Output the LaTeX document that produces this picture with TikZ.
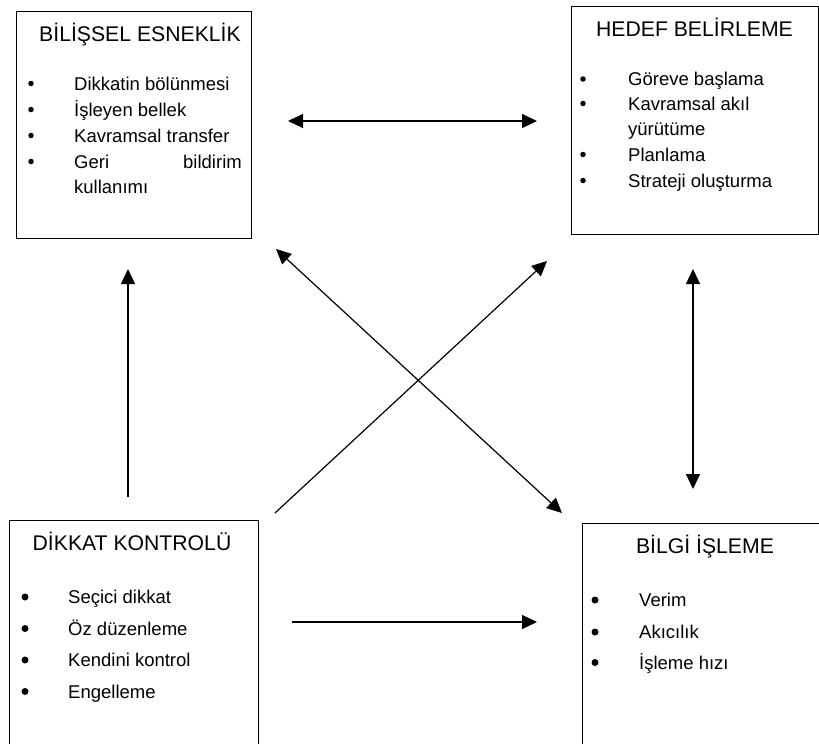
\documentclass[tikz,border=0pt]{standalone}
\usepackage{fontspec}
\setmainfont{Liberation Sans}
\usetikzlibrary{arrows.meta}

\begin{document}
\begin{tikzpicture}[x=1pt, y=-1pt,
  panel/.style={draw=black, line width=1.2pt, rectangle, anchor=north west, inner sep=0pt},
  heading/.style={anchor=base, inner sep=0pt, font=\fontsize{21.2}{25}\selectfont},
  entry/.style={anchor=base west, inner sep=0pt, font=\fontsize{18.5}{24}\selectfont},
  entryend/.style={anchor=base east, inner sep=0pt, font=\fontsize{18.5}{24}\selectfont},
  dot/.style={circle, fill=black, inner sep=0pt, minimum size=5.5pt},
  bigdot/.style={circle, fill=black, inner sep=0pt, minimum size=7pt},
  link/.style={line width=1.2pt, -{Triangle[length=15pt, width=14pt]}},
  duplex/.style={line width=1.2pt, {Triangle[length=15pt, width=14pt]}-{Triangle[length=15pt, width=14pt]}}
]
\useasboundingbox (0,0) rectangle (819,744);
\clip (0,0) rectangle (819,744);

% ---- panels ----
\node[panel, minimum width=235pt, minimum height=227pt] (bilissel) at (16,11) {};
\node[panel, minimum width=247pt, minimum height=228pt] (hedef) at (571,6) {};
\node[panel, minimum width=249pt, minimum height=260pt] (dikkat) at (9,520) {};
\node[panel, minimum width=260pt, minimum height=260pt] (bilgi) at (582,523) {};

% ---- Bilişsel esneklik ----
\node[heading] (h1) at (140,41) {BİLİŞSEL ESNEKLİK};
\node[dot] (d11) at (31,83.5) {};
\node[entry] (e11) at (74,90) {Dikkatin bölünmesi};
\node[dot] (d12) at (31,109.5) {};
\node[entry] (e12) at (74,116) {İşleyen bellek};
\node[dot] (d13) at (31,135.5) {};
\node[entry] (e13) at (74,142) {Kavramsal transfer};
\node[dot] (d14) at (31,161.5) {};
\node[entry] (e14) at (74,168) {Geri};
\node[entryend] (e14b) at (242,168) {bildirim};
\node[entry] (e15) at (74,193) {kullanımı};

% ---- Hedef belirleme ----
\node[heading] (h2) at (694.5,36) {HEDEF BELİRLEME};
\node[dot] (d21) at (583,79) {};
\node[entry] (e21) at (628,85.5) {Göreve başlama};
\node[dot] (d22) at (583,103.5) {};
\node[entry] (e22) at (628,110) {Kavramsal akıl};
\node[entry] (e23) at (628,135) {yürütüme};
\node[dot] (d24) at (583,154.5) {};
\node[entry] (e24) at (628,161) {Planlama};
\node[dot] (d25) at (583,180.5) {};
\node[entry] (e25) at (628,187) {Strateji oluşturma};

% ---- Dikkat kontrolü ----
\node[heading] (h3) at (132,550) {DİKKAT KONTROLÜ};
\node[bigdot] (d31) at (25,597) {};
\node[entry] (e31) at (68,603.5) {Seçici dikkat};
\node[bigdot] (d32) at (25,628.5) {};
\node[entry] (e32) at (68,635) {Öz düzenleme};
\node[bigdot] (d33) at (25,660) {};
\node[entry] (e33) at (68,666.5) {Kendini kontrol};
\node[bigdot] (d34) at (25,691.5) {};
\node[entry] (e34) at (68,698) {Engelleme};

% ---- Bilgi işleme ----
\node[heading] (h4) at (705,553) {BİLGİ İŞLEME};
\node[bigdot] (d41) at (595,600) {};
\node[entry] (e41) at (639,606.5) {Verim};
\node[bigdot] (d42) at (595,632) {};
\node[entry] (e42) at (639,638.5) {Akıcılık};
\node[bigdot] (d43) at (595,662.5) {};
\node[entry] (e43) at (639,669) {İşleme hızı};

% ---- connector ends ----
\coordinate (topL) at (288,121);
\coordinate (topR) at (537,121);
\coordinate (upS) at (128,497);
\coordinate (upE) at (128,269);
\coordinate (swS) at (275,513);
\coordinate (neE) at (547,261);
\coordinate (nwE) at (276,249);
\coordinate (seE) at (562,513);
\coordinate (vT) at (693,269);
\coordinate (vB) at (693,489);
\coordinate (botL) at (292,622);
\coordinate (botR) at (537,622);

% ---- connectors ----
\draw[duplex] (topL) -- (topR);
\draw[link] (upS) -- (upE);
\draw[link] (swS) -- (neE);
\draw[duplex] (nwE) -- (seE);
\draw[duplex] (vT) -- (vB);
\draw[link] (botL) -- (botR);
\end{tikzpicture}
\end{document}
